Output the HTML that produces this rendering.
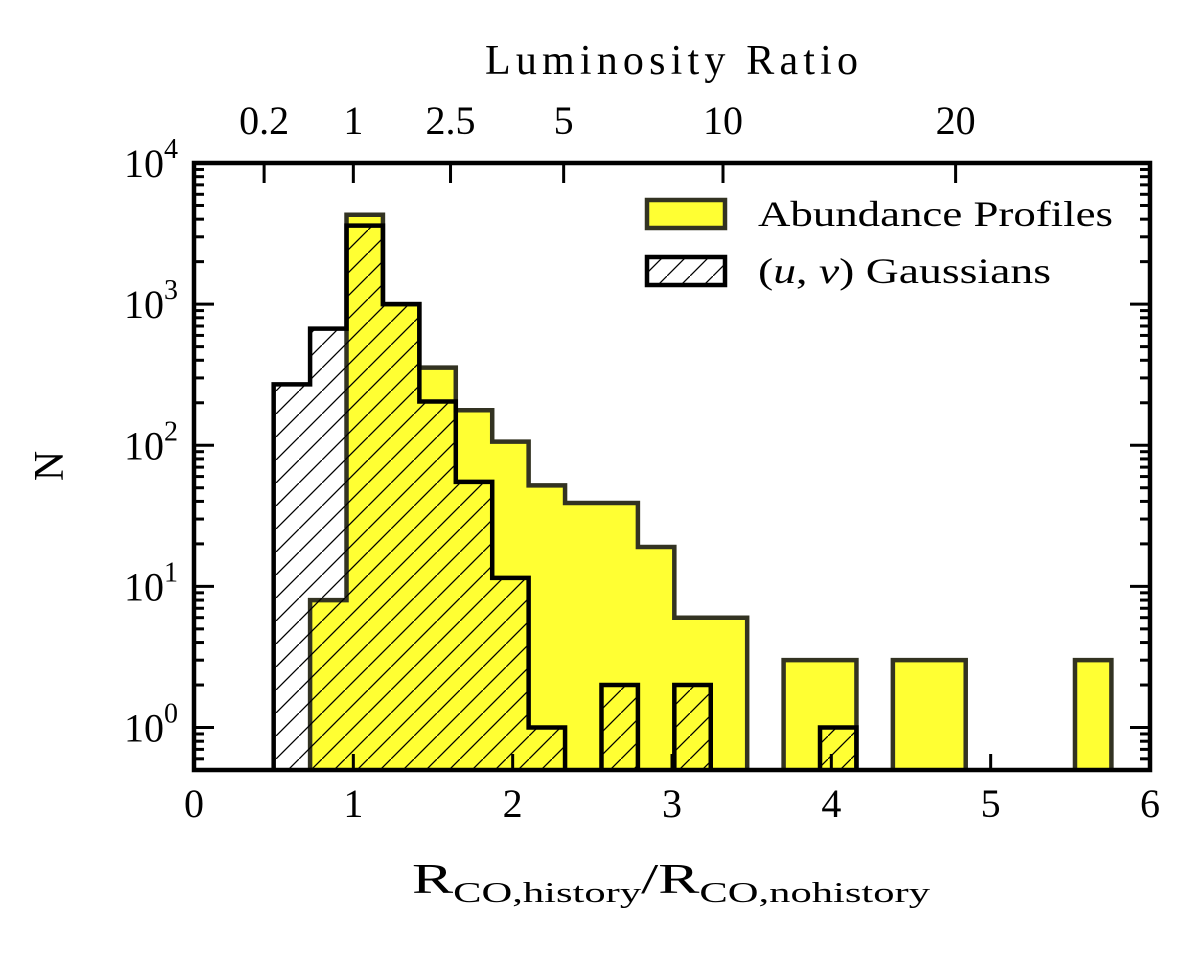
<!DOCTYPE html>
<html><head><meta charset="utf-8"><style>
body{margin:0;background:#fff}
svg text{font-family:"Liberation Serif","DejaVu Serif",serif;fill:#000}
</style></head><body>
<svg id="chart" width="1200" height="948" viewBox="0 0 1200 948" xmlns="http://www.w3.org/2000/svg">
<defs>
<pattern id="hatch" patternUnits="userSpaceOnUse" width="23" height="23">
<line x1="-2" y1="25" x2="25" y2="-2" stroke="#000" stroke-width="1.3"/>
</pattern>
<clipPath id="plotclip"><rect x="194" y="163" width="956" height="607"/></clipPath>
</defs>
<g id="marks" clip-path="url(#plotclip)"></g>
<g id="axes"></g>
</svg>
<script>
const binStart = 0.5;
const binWidth = 0.2286;
const abundanceCounts = [0, 8, 4300, 1000, 355, 177, 106, 52, 39, 39, 19, 6, 6, 0, 3, 3, 0, 3, 3, 0, 0, 0, 3];
const gaussianCounts = [270, 670, 3600, 1000, 204, 55, 11.5, 1, 0, 2, 0, 2, 0, 0, 0, 1, 0, 0, 0, 0, 0, 0, 0];
const xTicks = [0, 1, 2, 3, 4, 5, 6];
const yDecades = [0, 1, 2, 3, 4];
const lumTicks = [0.2, 1, 2.5, 5, 10, 20];
const lumTickX = [0.44, 1.0, 1.61, 2.32, 3.32, 4.78];

const X0 = 194, X1 = 1150, Y0 = 770, Y1 = 163;
const xMin = 0, xMax = 6, yMin = Math.log10(0.5), yMax = 4;
const sx = v => X0 + (v - xMin) / (xMax - xMin) * (X1 - X0);
const sy = v => v <= 0 ? Y0 + 10 : Y0 - (Math.log10(v) - yMin) / (yMax - yMin) * (Y0 - Y1);
const NS = "http://www.w3.org/2000/svg";
function mk(tag, attrs, parent) {
  const e = document.createElementNS(NS, tag);
  for (const k in attrs) e.setAttribute(k, attrs[k]);
  parent.appendChild(e);
  return e;
}
function stepPath(counts) {
  let d = "M" + sx(binStart) + "," + (Y0 + 10);
  counts.forEach((c, i) => {
    const xa = sx(binStart + i * binWidth), xb = sx(binStart + (i + 1) * binWidth);
    d += " L" + xa + "," + sy(c) + " L" + xb + "," + sy(c);
  });
  d += " L" + sx(binStart + counts.length * binWidth) + "," + (Y0 + 10) + " Z";
  return d;
}
const marks = document.getElementById("marks");
const axes = document.getElementById("axes");

const ab = mk("path", {d: stepPath(abundanceCounts), fill: "#ffff33", stroke: "#333322", "stroke-width": 4.5, "stroke-linejoin": "miter"}, marks);


const ga = mk("path", {d: stepPath(gaussianCounts), fill: "url(#hatch)", stroke: "#000", "stroke-width": 4.5, "stroke-linejoin": "miter"}, marks);



const fr = mk("rect", {x: X0, y: Y1, width: X1 - X0, height: Y0 - Y1, fill: "none", stroke: "#000", "stroke-width": 4.5}, axes);



xTicks.forEach(t => {
  const x = sx(t);
  mk("line", {x1: x, y1: Y0, x2: x, y2: Y0 - 16, stroke: "#000", "stroke-width": 3}, axes);
  const tx = mk("text", {x: x, y: 817, "font-size": 40, "text-anchor": "middle"}, axes);
  tx.textContent = t;
  
  
});
lumTicks.forEach((t, i) => {
  const x = sx(lumTickX[i]);
  mk("line", {x1: x, y1: Y1, x2: x, y2: Y1 + 20, stroke: "#000", "stroke-width": 3}, axes);
  const tx = mk("text", {x: x, y: 134, "font-size": 40, "text-anchor": "middle"}, axes);
  tx.textContent = t;
  
  
});
for (let d = -1; d <= 4; d++) {
  for (let m = 1; m <= 9; m++) {
    const v = m * Math.pow(10, d);
    if (v < 0.5 || v > 1e4) continue;
    const y = sy(v), L = m === 1 ? 20 : 10;
    mk("line", {x1: X0, y1: y, x2: X0 + L, y2: y, stroke: "#000", "stroke-width": 3}, axes);
    mk("line", {x1: X1, y1: y, x2: X1 - L, y2: y, stroke: "#000", "stroke-width": 3}, axes);
  }
}
yDecades.forEach(p => {
  const y = sy(Math.pow(10, p));
  const tx = mk("text", {x: 178, y: y + 14, "font-size": 40, "text-anchor": "end"}, axes);
  tx.textContent = "10";
  const sup = mk("tspan", {dy: -19, "font-size": 28}, tx);
  sup.textContent = p;
  
  
});
</script>
<svg style="position:absolute;left:0;top:0" width="1200" height="948">
<text x="485" y="74" font-size="42" textLength="373" lengthAdjust="spacing" font-family="Liberation Serif, serif">Luminosity Ratio</text>
<text x="412" y="893" font-size="42" textLength="518" lengthAdjust="spacingAndGlyphs" font-family="Liberation Serif, serif">R<tspan font-size="29" dy="9">CO,history</tspan><tspan dy="-9">/R</tspan><tspan font-size="29" dy="9">CO,nohistory</tspan></text>
<text transform="translate(63,466) rotate(-90)" font-size="42" text-anchor="middle" font-family="Liberation Serif, serif">N</text>
<g>
<rect x="647" y="200" width="78" height="28" fill="#ffff33" stroke="#333322" stroke-width="4.5"/>
<text x="758" y="226" font-size="36" textLength="355" lengthAdjust="spacingAndGlyphs" font-family="Liberation Serif, serif">Abundance Profiles</text>
<rect x="647" y="257" width="78" height="28" fill="url(#hatch)" stroke="#000" stroke-width="4.5"/>
<text x="758" y="283" font-size="36" textLength="293" lengthAdjust="spacingAndGlyphs" font-family="Liberation Serif, serif">(<tspan font-style="italic">u</tspan>, <tspan font-style="italic">v</tspan>) Gaussians</text>
</g>
</svg>
</body></html>
